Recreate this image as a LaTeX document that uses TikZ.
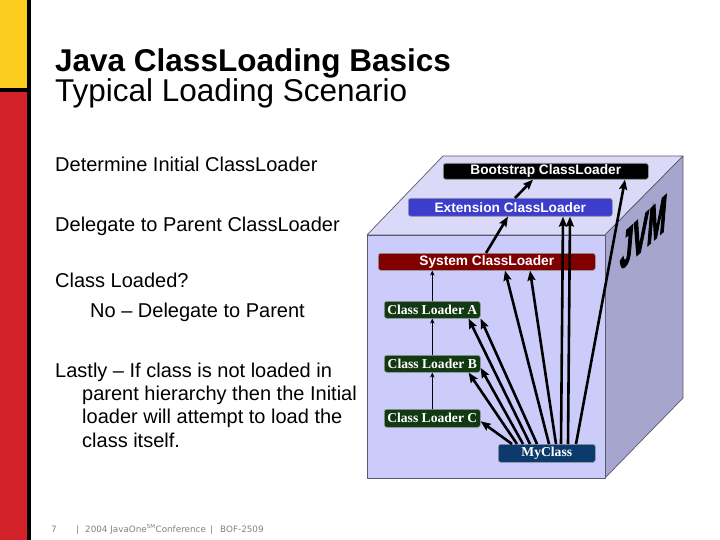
\documentclass[tikz,border=0pt]{standalone}
\usepackage{fontspec}
\setmainfont{Liberation Sans}
\newfontfamily\serifbf{Liberation Serif}
\newfontfamily\footfont{DejaVu Sans}
\newfontfamily\jvmfont[BoldItalicFeatures={FakeBold=4}]{Liberation Sans}
\usetikzlibrary{arrows.meta}

\definecolor{slideyellow}{RGB}{251,203,30}
\definecolor{slidered}{RGB}{210,33,40}
\definecolor{cubefront}{RGB}{204,204,250}
\definecolor{cubetop}{RGB}{218,218,248}
\definecolor{cubeside}{RGB}{165,165,205}
\definecolor{cubeedge}{RGB}{90,90,110}
\definecolor{extblue}{RGB}{60,60,205}
\definecolor{sysred}{RGB}{128,0,0}
\definecolor{cldgreen}{RGB}{18,58,18}
\definecolor{mynavy}{RGB}{12,58,108}
\definecolor{footgray}{RGB}{130,130,130}

\begin{document}
\begin{tikzpicture}[x=1pt,y=-1pt,
  loader/.style={rounded corners=2.5pt, draw=black!40, line width=0.6pt, text=white,
    inner sep=0pt, anchor=north west, font=\fontsize{13.7}{14}\selectfont\bfseries},
  cl/.style={loader, font=\fontsize{13.6}{14}\selectfont\serifbf\bfseries},
  bodytext/.style={anchor=base west, inner sep=0pt, font=\fontsize{20}{23}\selectfont},
  titletext/.style={anchor=base west, inner sep=0pt, font=\fontsize{31.5}{32}\selectfont},
  footer/.style={anchor=base west, inner sep=0pt, text=footgray, font=\fontsize{8.8}{10}\footfont},
  thick arrow/.style={line width=2.6pt, -{Stealth[length=10pt,width=8pt,inset=1.5pt]}},
  thin arrow/.style={line width=1.1pt, -{Stealth[length=5pt,width=4.5pt]}},
]
\useasboundingbox (0,0) rectangle (720,540);
\fill[white] (0,0) rectangle (720,540);

% left bar
\fill[slideyellow] (0,0) rectangle (27,89);
\fill[slidered] (0,91) rectangle (27,540);
\fill[black] (0,88) rectangle (27,92);
\fill[black] (27,0) rectangle (31,540);

% title
\node[titletext, font=\fontsize{31.5}{32}\selectfont\bfseries] (t1) at (55,72) {Java ClassLoading Basics};
\node[titletext] (t2) at (55,102) {Typical Loading Scenario};

% body
\node[bodytext] (b1) at (55,172) {Determine Initial ClassLoader};
\node[bodytext] (b2) at (55,231) {Delegate to Parent ClassLoader};
\node[bodytext] (b3) at (55,287) {Class Loaded?};
\node[bodytext] (b4) at (90,317) {No – Delegate to Parent};
\node[bodytext] (b5) at (55,377) {Lastly – If class is not loaded in};
\node[bodytext] (b6) at (82,400) {parent hierarchy then the Initial};
\node[bodytext] (b7) at (82,423) {loader will attempt to load the};
\node[bodytext] (b8) at (82,447) {class itself.};

% footer
\node[footer] (pg) at (51,532) {7};
\node[footer] (f1) at (76,532) {|};
\node[footer] (f2) at (85,532) {2004 JavaOne\textsuperscript{\fontsize{5.5}{6}\selectfont SM}Conference};
\node[footer] (f3) at (210,532) {|};
\node[footer] (f4) at (220,532) {BOF-2509};

% cube
\filldraw[fill=cubetop, draw=cubeedge, line width=0.7pt, line join=round]
  (367,235) -- (443,156) -- (683,156) -- (605,235) -- cycle;
\filldraw[fill=cubeside, draw=cubeedge, line width=0.7pt, line join=round]
  (605,235) -- (683,156) -- (683,398) -- (605,478) -- cycle;
\filldraw[fill=cubefront, draw=cubeedge, line width=0.7pt, line join=round]
  (367,235) rectangle (605,478);

% JVM label on side face
\begin{scope}[shift={(643,233)}, yslant=0.9]
  \node[inner sep=0pt, transform shape] (jvm) at (0,0)
    {\resizebox{46pt}{34pt}{\jvmfont\bfseries\itshape JVM}};
\end{scope}

% loaders
\node[loader, fill=black, minimum width=205pt, minimum height=16pt] (boot) at (443,163) {Bootstrap ClassLoader};
\node[loader, fill=extblue, minimum width=204pt, minimum height=18pt] (ext) at (408,198) {Extension ClassLoader};
\node[loader, fill=sysred, minimum width=217pt, minimum height=17pt] (sys) at (378,253) {System ClassLoader};
\node[cl, fill=cldgreen, minimum width=96pt, minimum height=17pt] (la) at (384,301) {Class Loader A};
\node[cl, fill=cldgreen, minimum width=96pt, minimum height=17pt] (lb) at (384,355) {Class Loader B};
\node[cl, fill=cldgreen, minimum width=96pt, minimum height=18pt] (lc) at (384,409) {Class Loader C};
\node[cl, fill=mynavy, minimum width=97pt, minimum height=18pt] (my) at (498,444) {MyClass};

% delegation chain
\draw[thick arrow] ([xshift=107pt]ext.north west) -- ([xshift=90pt]boot.south west);
\draw[thick arrow] ([xshift=108pt]sys.north west) -- ([xshift=100pt]ext.south west);
\draw[thin arrow] (la.north) -- (la.north |- sys.south);
\draw[thin arrow] (lb.north) -- (la.south);
\draw[thin arrow] (lc.north) -- (lb.south);

% MyClass to every loader
\draw[thick arrow] ([xshift=14pt]my.north west) -- ([yshift=-3pt]lc.east);
\draw[thick arrow] ([xshift=19pt]my.north west) -- ([xshift=-12pt]lb.south east);
\draw[thick arrow] ([xshift=25pt]my.north west) -- ([yshift=-4pt]lb.east);
\draw[thick arrow] ([xshift=32pt]my.north west) -- ([xshift=-12pt]la.south east);
\draw[thick arrow] ([xshift=39pt]my.north west) -- (la.south east);
\draw[thick arrow] ([xshift=51pt]my.north west) -- ([xshift=127pt]sys.south west);
\draw[thick arrow] ([xshift=58pt]my.north west) -- ([xshift=152pt]sys.south west);
\draw[thick arrow] ([xshift=63pt]my.north west) -- ([xshift=155pt]ext.south west);
\draw[thick arrow] ([xshift=70pt]my.north west) -- ([xshift=162pt]ext.south west);
\draw[thick arrow] ([xshift=78pt]my.north west) -- ([xshift=182pt]boot.south west);
\end{tikzpicture}
\end{document}
